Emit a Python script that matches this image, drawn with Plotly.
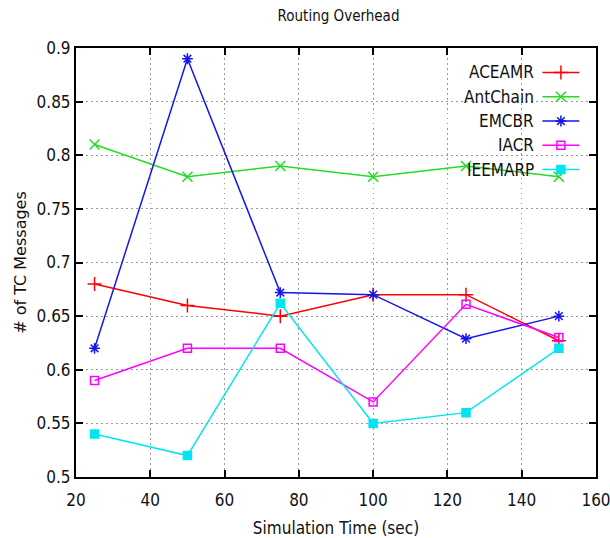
import plotly.graph_objects as go

x_vals = [25, 50, 75, 100, 125, 150]
names = ["ACEAMR", "AntChain", "EMCBR", "IACR", "IEEMARP"]
aceamr = [0.68, 0.66, 0.65, 0.67, 0.67, 0.627]
antchain = [0.81, 0.78, 0.79, 0.78, 0.79, 0.78]
emcbr = [0.62, 0.89, 0.672, 0.67, 0.629, 0.65]
iacr = [0.59, 0.62, 0.62, 0.57, 0.661, 0.63]
ieemarp = [0.54, 0.52, 0.662, 0.55, 0.56, 0.62]
series = [aceamr, antchain, emcbr, iacr, ieemarp]

colors = ["#ff0000", "#22dd22", "#1515ee", "#ff00ff", "#00e5f0"]
symbols = ["cross-thin-open", "x-thin-open", "asterisk-open", "square-open", "square"]
sizes = [10, 10, 9, 8, 8]

x_ticks = [20, 40, 60, 80, 100, 120, 140, 160]
y_ticks = [0.5, 0.55, 0.6, 0.65, 0.7, 0.75, 0.8, 0.85, 0.9]
y_tick_labels = ["0.5", "0.55", "0.6", "0.65", "0.7", "0.75", "0.8", "0.85", "0.9"]

FONT = "Liberation Sans Narrow, DejaVu Sans Condensed, DejaVu Sans"

fig = go.Figure()
for name, ys, c, s, sz in zip(names, series, colors, symbols, sizes):
    fig.add_trace(go.Scatter(
        x=x_vals, y=ys, mode="lines+markers", name=name,
        line=dict(color=c, width=1.5),
        marker=dict(symbol=s, size=sz, color=c, line=dict(color=c, width=1.5)),
        showlegend=False,
    ))

# custom gnuplot-style legend (text left of sample) on an overlay axis
leg_y0, leg_dy = 0.943, 0.0566
for i, (name, c, s, sz) in enumerate(zip(names, colors, symbols, sizes)):
    yy = leg_y0 - i * leg_dy
    fig.add_trace(go.Scatter(
        x=[0.897, 0.968], y=[yy, yy], mode="lines", xaxis="x2", yaxis="y2",
        line=dict(color=c, width=1.5), showlegend=False, hoverinfo="skip"))
    fig.add_trace(go.Scatter(
        x=[0.9325], y=[yy], mode="markers", xaxis="x2", yaxis="y2",
        marker=dict(symbol=s, size=sz, color=c, line=dict(color=c, width=1.5)),
        showlegend=False, hoverinfo="skip"))
    fig.add_annotation(x=0.885, y=yy, xref="x2", yref="y2", text=name,
                       showarrow=False, xanchor="right", yanchor="middle",
                       font=dict(family=FONT, size=17, color="#111"))

axis_common = dict(
    showline=True, linecolor="black", linewidth=2, mirror="ticks",
    ticks="inside", ticklen=7, tickwidth=1.5, tickcolor="black",
    showgrid=True, gridcolor="#999", griddash="1.5px,3.5px", gridwidth=1.2,
    zeroline=False, tickfont=dict(family=FONT, size=17, color="#111"),
    ticklabeloverflow="allow", automargin=False,
)

fig.update_layout(
    width=610, height=538,
    margin=dict(l=76, r=14, t=48, b=61),
    paper_bgcolor="white", plot_bgcolor="white",
    title=dict(text="Routing Overhead", x=0.555, xanchor="center", y=0.97, yanchor="middle",
               font=dict(family=FONT, size=15, color="#111")),
    xaxis=dict(range=[20, 160], tickvals=x_ticks, ticklabelstandoff=7, **axis_common,
               title=dict(text="Simulation Time (sec)", standoff=16,
                          font=dict(family=FONT, size=17, color="#111"))),
    yaxis=dict(range=[0.5, 0.9], tickvals=y_ticks, ticktext=y_tick_labels, **axis_common,
               title=dict(text="# of TC Messages", standoff=6,
                          font=dict(family="DejaVu Sans", size=16, color="#111"))),
    xaxis2=dict(range=[0, 1], overlaying="x", visible=False, fixedrange=True),
    yaxis2=dict(range=[0, 1], overlaying="y", visible=False, fixedrange=True),
    showlegend=False,
)

fig.write_html("out.html")
